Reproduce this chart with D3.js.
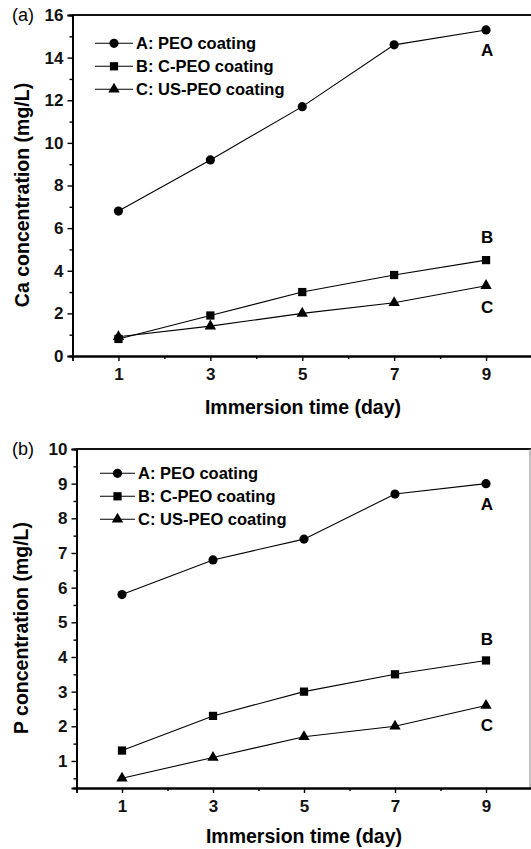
<!DOCTYPE html>
<html><head><meta charset="utf-8">
<script src="https://cdn.jsdelivr.net/npm/d3@7"></script>
<style>
body{margin:0;background:#fff;}
svg text{font-family:"Liberation Sans",Arial,sans-serif;}
</style></head>
<body>
<svg id="c" width="531" height="849"></svg>
<script>
const days = [1, 3, 5, 7, 9];
const seriesNames = ["A: PEO coating", "B: C-PEO coating", "C: US-PEO coating"];
const seriesKeys = ["A", "B", "C"];
const caA = [6.8, 9.2, 11.7, 14.6, 15.3];
const caB = [0.8, 1.9, 3.0, 3.8, 4.5];
const caC = [0.9, 1.4, 2.0, 2.5, 3.3];
const pA = [5.8, 6.8, 7.4, 8.7, 9.0];
const pB = [1.3, 2.3, 3.0, 3.5, 3.9];
const pC = [0.5, 1.1, 1.7, 2.0, 2.6];
const caMajor = [0, 2, 4, 6, 8, 10, 12, 14, 16];
const caMinor = [1, 3, 5, 7, 9, 11, 13, 15];
const pMajor = [1, 2, 3, 4, 5, 6, 7, 8, 9, 10];
const pMinor = [0.5, 1.5, 2.5, 3.5, 4.5, 5.5, 6.5, 7.5, 8.5, 9.5];
const xMajor = [1, 3, 5, 7, 9];
const xMinor = [0, 2, 4, 6, 8, 10];

const svg = d3.select("#c");
const symbols = [d3.symbolCircle, d3.symbolSquare, d3.symbolTriangle];
const symSizes = [66, 68, 56];

function panel(cfg) {
  const x = d3.scaleLinear().domain([0, 10]).range([cfg.left, cfg.right]);
  const y = d3.scaleLinear().domain(cfg.ydom).range([cfg.bottom, cfg.top]);
  const g = svg.append("g");
  g.append("line").attr("x1", cfg.left).attr("x2", cfg.right).attr("y1", cfg.top).attr("y2", cfg.top)
    .attr("stroke", "#111").attr("stroke-width", 1.8);
  g.append("line").attr("x1", cfg.frameRight).attr("x2", cfg.frameRight).attr("y1", cfg.top).attr("y2", cfg.bottom)
    .attr("stroke", "#999").attr("stroke-width", 1.2);
  const ax = (a) => a.attr("font-size", 17).attr("font-weight", "bold")
      .call(s => s.select(".domain").attr("stroke-width", 1.8))
      .call(s => s.selectAll(".tick line").attr("stroke-width", 1.4));
  g.append("g").attr("transform", `translate(0,${cfg.bottom})`)
    .call(d3.axisBottom(x).tickValues(xMinor).tickSize(3).tickFormat("")).call(ax);
  g.append("g").attr("transform", `translate(0,${cfg.bottom})`)
    .call(d3.axisBottom(x).tickValues(xMajor).tickSize(5).tickPadding(7).tickFormat(d3.format("d"))).call(ax);
  g.append("g").attr("transform", `translate(${cfg.left},0)`)
    .call(d3.axisLeft(y).tickValues(cfg.minor).tickSize(3).tickFormat("")).call(ax);
  g.append("g").attr("transform", `translate(${cfg.left},0)`)
    .call(d3.axisLeft(y).tickValues(cfg.major).tickSize(5).tickPadding(4).tickFormat(d3.format("d"))).call(ax);
  g.selectAll(".tick text").attr("fill", "#111");
  g.append("text").attr("x", cfg.xTitleX).attr("y", cfg.xTitleY).attr("text-anchor", "middle")
    .attr("font-size", 19.5).attr("font-weight", "bold").text("Immersion time (day)");
  g.append("text").attr("transform", `translate(${cfg.yTitleX},${cfg.yTitleY}) rotate(-90)`).attr("text-anchor", "middle")
    .attr("font-size", 19.5).attr("font-weight", "bold").text(cfg.yTitle);
  g.append("text").attr("x", 12).attr("y", cfg.top + 6).attr("font-size", 18).text(cfg.tag);
  const line = d3.line().x((d, i) => x(days[i])).y(d => y(d));
  cfg.series.forEach((vals, k) => {
    g.append("path").attr("d", line(vals)).attr("fill", "none").attr("stroke", "#000").attr("stroke-width", 1.1);
    g.selectAll(null).data(vals).enter().append("path")
      .attr("transform", (d, i) => `translate(${x(days[i])},${y(d)})`)
      .attr("d", d3.symbol().type(symbols[k]).size(symSizes[k]))
      .attr("fill", "#000");
    const last = vals[vals.length - 1];
    g.append("text").attr("x", x(days[days.length - 1]) + 1).attr("y", y(last) + cfg.labelOff[k])
      .attr("text-anchor", "middle").attr("font-size", 17).attr("font-weight", "bold").text(seriesKeys[k]);
  });
  seriesNames.forEach((name, k) => {
    const cy = cfg.legY + k * 23;
    g.append("line").attr("x1", cfg.legX1).attr("x2", cfg.legX2).attr("y1", cy).attr("y2", cy)
      .attr("stroke", "#000").attr("stroke-width", 1.1);
    g.append("path").attr("transform", `translate(${(cfg.legX1 + cfg.legX2) / 2},${cy})`)
      .attr("d", d3.symbol().type(symbols[k]).size(symSizes[k])).attr("fill", "#000");
    g.append("text").attr("x", cfg.legX2 + 3).attr("y", cy + 6).attr("font-size", 16.5).attr("font-weight", "bold").text(name);
  });
}

panel({
  left: 72.5, right: 532, frameRight: 532, top: 15, bottom: 356, ydom: [0, 16],
  major: caMajor, minor: caMinor, series: [caA, caB, caC],
  yTitle: "Ca concentration (mg/L)", yTitleX: 29, yTitleY: 195,
  xTitleX: 303, xTitleY: 414, tag: "(a)",
  labelOff: [26, -17, 27], legY: 43.3, legX1: 95, legX2: 133
});
panel({
  left: 76.5, right: 531.5, frameRight: 530, top: 449, bottom: 788, ydom: [0.22, 10],
  major: pMajor, minor: pMinor, series: [pA, pB, pC],
  yTitle: "P concentration (mg/L)", yTitleX: 28, yTitleY: 628,
  xTitleX: 304, xTitleY: 843, tag: "(b)",
  labelOff: [26, -15, 25], legY: 473.3, legX1: 100, legX2: 135
});
</script>
</body></html>
